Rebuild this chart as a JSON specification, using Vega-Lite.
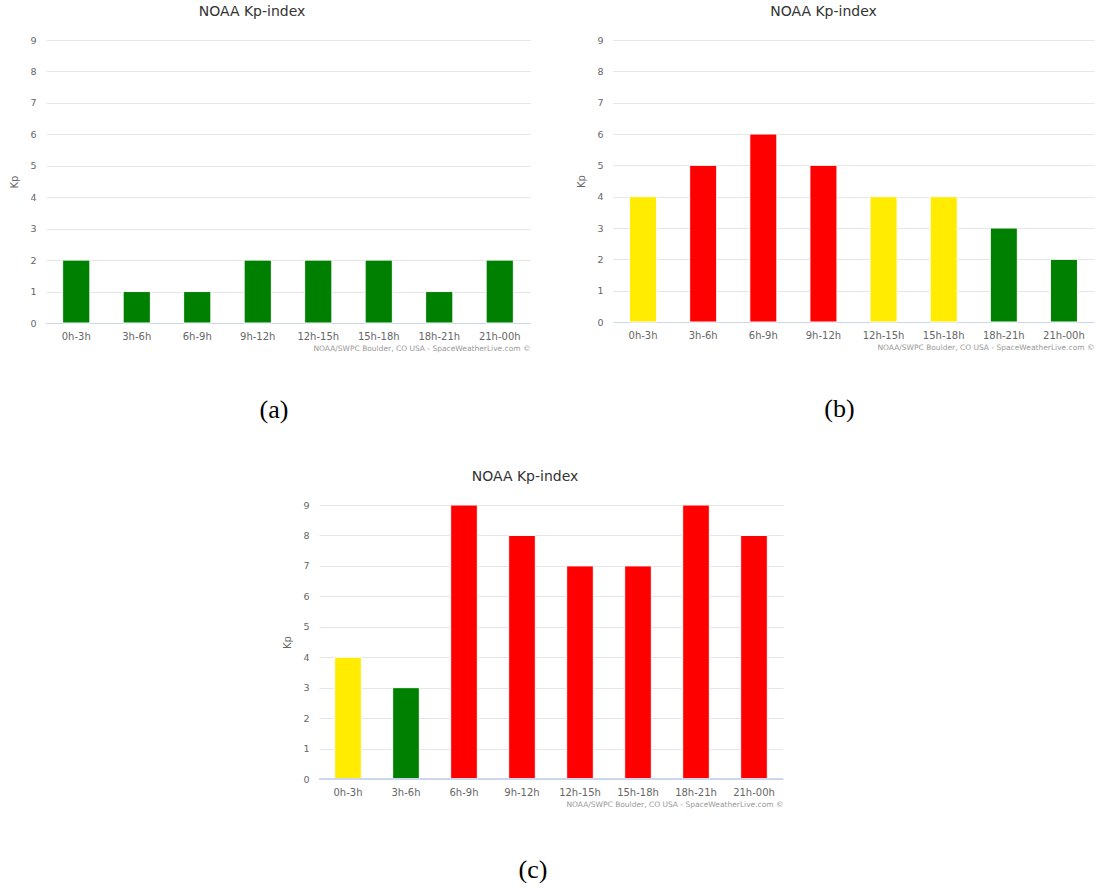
{
  "$schema": "https://vega.github.io/schema/vega-lite/v6.json",
  "background": "white",
  "padding": {"left": 9, "top": 5, "right": 2, "bottom": 0},
  "datasets": {
    "a": [
      {"period": "0h-3h", "kp": 2, "level": "quiet"},
      {"period": "3h-6h", "kp": 1, "level": "quiet"},
      {"period": "6h-9h", "kp": 1, "level": "quiet"},
      {"period": "9h-12h", "kp": 2, "level": "quiet"},
      {"period": "12h-15h", "kp": 2, "level": "quiet"},
      {"period": "15h-18h", "kp": 2, "level": "quiet"},
      {"period": "18h-21h", "kp": 1, "level": "quiet"},
      {"period": "21h-00h", "kp": 2, "level": "quiet"}
    ],
    "b": [
      {"period": "0h-3h", "kp": 4, "level": "active"},
      {"period": "3h-6h", "kp": 5, "level": "storm"},
      {"period": "6h-9h", "kp": 6, "level": "storm"},
      {"period": "9h-12h", "kp": 5, "level": "storm"},
      {"period": "12h-15h", "kp": 4, "level": "active"},
      {"period": "15h-18h", "kp": 4, "level": "active"},
      {"period": "18h-21h", "kp": 3, "level": "quiet"},
      {"period": "21h-00h", "kp": 2, "level": "quiet"}
    ],
    "c": [
      {"period": "0h-3h", "kp": 4, "level": "active"},
      {"period": "3h-6h", "kp": 3, "level": "quiet"},
      {"period": "6h-9h", "kp": 9, "level": "storm"},
      {"period": "9h-12h", "kp": 8, "level": "storm"},
      {"period": "12h-15h", "kp": 7, "level": "storm"},
      {"period": "15h-18h", "kp": 7, "level": "storm"},
      {"period": "18h-21h", "kp": 9, "level": "storm"},
      {"period": "21h-00h", "kp": 8, "level": "storm"}
    ]
  },
  "config": {
    "view": {"stroke": null},
    "font": "DejaVu Sans",
    "title": {"font": "DejaVu Sans", "fontSize": 14, "fontWeight": "normal", "color": "#333333", "offset": 16},
    "axisX": {
      "domainColor": "#ccd6eb", "ticks": false, "grid": false, "labelAngle": 0,
      "labelFontSize": 10, "labelColor": "#666666", "labelPadding": 8,
      "titleFontSize": 7.5, "titleFontWeight": "normal", "titleColor": "#999999",
      "titleAnchor": "end", "titleAlign": "right", "titlePadding": 3
    },
    "axisY": {
      "domain": false, "ticks": false, "gridColor": "#e6e6e6",
      "labelFontSize": 9.5, "labelColor": "#666666", "labelPadding": 10,
      "titleFontSize": 10, "titleFontWeight": "normal", "titleColor": "#666666", "titlePadding": 10
    },
    "bar": {"stroke": "white", "strokeWidth": 1}
  },
  "spacing": 47,
  "center": true,
  "vconcat": [
    {
      "spacing": 46,
      "hconcat": [
        {
          "title": {"text": "(a)", "orient": "bottom", "anchor": "middle", "dx": 4, "font": "Liberation Serif", "fontSize": 26, "color": "#000000", "offset": 45},
          "vconcat": [
            {
              "title": {"text": "NOAA Kp-index", "dx": -36},
              "width": 484, "height": 283,
              "data": {"name": "a"},
              "mark": "bar",
              "encoding": {
                "x": {"field": "period", "type": "nominal", "sort": null, "scale": {"paddingInner": 0.55, "paddingOuter": 0.275}, "title": "NOAA/SWPC Boulder, CO USA - SpaceWeatherLive.com ©"},
                "y": {"field": "kp", "type": "quantitative", "scale": {"domain": [0, 9], "nice": false}, "axis": {"values": [0,1,2,3,4,5,6,7,8,9]}, "title": "Kp"},
                "color": {"field": "level", "type": "nominal", "scale": {"domain": ["quiet", "active", "storm"], "range": ["#008000", "#ffec00", "#ff0000"]}, "legend": null}
              }
            }
          ]
        },
        {
          "title": {"text": "(b)", "orient": "bottom", "anchor": "middle", "dx": 4, "font": "Liberation Serif", "fontSize": 26, "color": "#000000", "offset": 45},
          "vconcat": [
            {
              "title": {"text": "NOAA Kp-index", "dx": -30},
              "width": 481, "height": 282,
              "data": {"name": "b"},
              "mark": "bar",
              "encoding": {
                "x": {"field": "period", "type": "nominal", "sort": null, "scale": {"paddingInner": 0.55, "paddingOuter": 0.275}, "title": "NOAA/SWPC Boulder, CO USA - SpaceWeatherLive.com ©"},
                "y": {"field": "kp", "type": "quantitative", "scale": {"domain": [0, 9], "nice": false}, "axis": {"values": [0,1,2,3,4,5,6,7,8,9]}, "title": "Kp"},
                "color": {"field": "level", "type": "nominal", "scale": {"domain": ["quiet", "active", "storm"], "range": ["#008000", "#ffec00", "#ff0000"]}, "legend": null}
              }
            }
          ]
        }
      ]
    },
    {
      "title": {"text": "(c)", "orient": "bottom", "anchor": "middle", "dx": -19, "font": "Liberation Serif", "fontSize": 26, "color": "#000000", "offset": 49},
      "vconcat": [
        {
          "title": {"text": "NOAA Kp-index", "dx": -26},
          "width": 464, "height": 274,
          "data": {"name": "c"},
          "encoding": {
            "x": {"field": "period", "type": "nominal", "sort": null, "scale": {"paddingInner": 0.54, "paddingOuter": 0.27}, "title": "NOAA/SWPC Boulder, CO USA - SpaceWeatherLive.com ©"}
          },
          "layer": [
            {
              "mark": "bar",
              "encoding": {
                "y": {"field": "kp", "type": "quantitative", "scale": {"domain": [0, 9], "nice": false}, "axis": {"values": [0,1,2,3,4,5,6,7,8,9]}, "title": "Kp"},
                "color": {"field": "level", "type": "nominal", "scale": {"domain": ["quiet", "active", "storm"], "range": ["#008000", "#ffec00", "#ff0000"]}, "legend": null}
              }
            },
            {
              "mark": {"type": "rule", "color": "#ccd6eb"},
              "encoding": {
                "x": null,
                "y": {"datum": 0, "type": "quantitative", "axis": {"orient": "right", "labels": false, "ticks": false, "domain": false, "grid": false, "title": " ", "titlePadding": 28}}
              }
            }
          ],
          "resolve": {"axis": {"y": "independent"}}
        }
      ]
    }
  ]
}
